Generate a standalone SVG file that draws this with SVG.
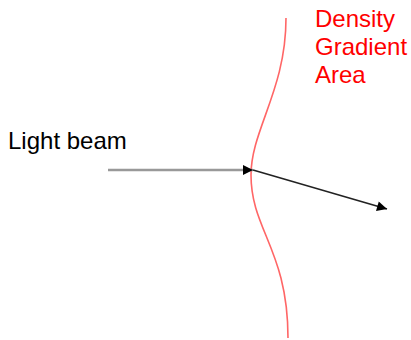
<svg xmlns="http://www.w3.org/2000/svg" width="411" height="340" viewBox="0 0 411 340">
  <style>
    .label { font-family: "Liberation Sans", Arial, sans-serif; font-size: 24px; }
    .red { fill: #ff0000; }
    .dark { fill: #000000; }
  </style>
  <defs>
    <marker id="head" viewBox="0 0 10 10" refX="10" refY="5" markerWidth="15" markerHeight="10" markerUnits="userSpaceOnUse" orient="auto">
      <path d="M0,0 L10,5 L0,10 Z" fill="#000"/>
    </marker>
  </defs>
  <rect width="411" height="340" fill="#fff"/>
  <g id="gradient-area">
    <path d="M286,18 C286,90 251,130 251,175 C251,230 288,250 288,338" fill="none" stroke="#ff6666" stroke-width="1.6"/>
    <text class="label red" x="315" y="27">Density</text>
    <text class="label red" x="315" y="55">Gradient</text>
    <text class="label red" x="315" y="83">Area</text>
  </g>
  <g id="light-beam">
    <text class="label dark" x="8" y="149">Light beam</text>
  </g>
  <g id="connectors">
    <line x1="108" y1="170" x2="253" y2="170" stroke="#999" stroke-width="2.5" marker-end="url(#head)"/>
    <line x1="253" y1="170" x2="387" y2="209" stroke="#222" stroke-width="1.6" marker-end="url(#head)"/>
  </g>
</svg>
